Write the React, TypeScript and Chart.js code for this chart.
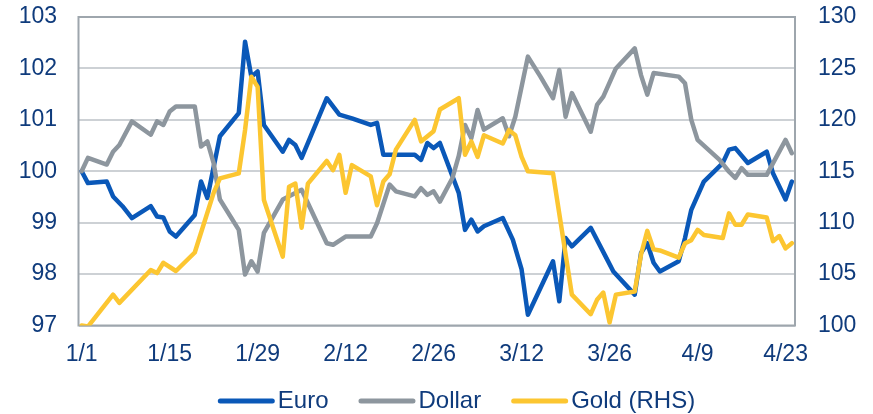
import React, { useEffect, useRef } from "react";
import { Chart, registerables } from "chart.js";

Chart.register(...registerables);

// Day offsets from 1 Jan, and index values (left axis: Euro, Dollar; right axis: Gold)
const tickDays = [0, 14, 28, 42, 56, 70, 84, 98, 112];
const tickLabels = ["1/1", "1/15", "1/29", "2/12", "2/26", "3/12", "3/26", "4/9", "4/23"];

const euroDays = [0, 1, 4, 5, 6.5, 8, 11, 12, 13, 14, 15, 18, 19, 20, 22, 25, 26, 27, 28, 29, 32, 33, 34, 35, 39, 41, 43, 46, 47, 48, 49.5, 53, 54, 55, 56, 57, 60, 61, 62, 63, 64, 67, 68.6, 70, 71, 75, 76, 77, 78, 81, 83.5, 84.6, 88, 89, 90, 91, 92, 95, 96, 97, 99, 102, 103, 104, 106, 109, 110, 112, 113];
const euroValues = [100.0, 99.77, 99.8, 99.51, 99.32, 99.09, 99.32, 99.12, 99.1, 98.83, 98.73, 99.15, 99.8, 99.48, 100.68, 101.13, 102.52, 101.84, 101.94, 100.9, 100.38, 100.61, 100.51, 100.26, 101.42, 101.1, 101.03, 100.9, 100.94, 100.32, 100.32, 100.32, 100.22, 100.55, 100.45, 100.55, 99.58, 98.86, 99.06, 98.83, 98.93, 99.09, 98.67, 98.09, 97.21, 98.25, 97.47, 98.7, 98.54, 98.9, 98.31, 98.05, 97.6, 98.41, 98.6, 98.22, 98.05, 98.25, 98.7, 99.25, 99.8, 100.16, 100.42, 100.45, 100.16, 100.38, 99.96, 99.45, 99.8];

const dollarDays = [0, 1, 4, 5, 6, 8, 11, 12, 13, 14, 15, 18, 19, 20, 21, 22, 25, 26, 27, 28, 29, 32, 35, 39, 40, 42, 46, 47, 49, 50, 53, 54, 55, 56, 57, 59, 60, 61, 62, 63, 64, 67, 68, 69, 71, 73, 75, 76, 77, 78, 81, 82, 83, 85, 88, 89, 90, 91, 95, 96, 97, 98, 101.5, 103, 104, 105, 106, 109, 112, 113];
const dollarValues = [100.0, 100.26, 100.13, 100.38, 100.51, 100.97, 100.71, 100.97, 100.9, 101.16, 101.26, 101.26, 100.48, 100.58, 100.16, 99.45, 98.86, 97.99, 98.25, 98.05, 98.8, 99.45, 99.64, 98.6, 98.57, 98.73, 98.73, 98.99, 99.74, 99.61, 99.51, 99.67, 99.54, 99.61, 99.41, 99.87, 100.3, 100.9, 100.64, 101.19, 100.81, 101.03, 100.68, 101.06, 102.23, 101.84, 101.42, 101.97, 101.06, 101.52, 100.77, 101.29, 101.45, 102.0, 102.39, 101.87, 101.49, 101.91, 101.84, 101.71, 101.0, 100.61, 100.22, 99.99, 99.87, 100.06, 99.93, 99.93, 100.61, 100.35];

const goldDays = [0, 1, 5, 6, 11, 12, 13, 15, 18, 21, 22, 25, 26, 27, 28, 29, 32, 33, 34, 35, 36, 39, 40, 41, 42, 43, 46, 47, 48, 49, 50, 53, 54, 56, 57, 60, 61, 62, 63, 64, 67, 68, 69, 70, 71, 75, 78, 81, 82, 83, 84, 85, 88, 89, 90, 91, 92, 95, 96, 97, 98, 99, 102, 103, 104, 105, 106, 109, 110, 111, 112, 113];
const goldValues = [100.0, 99.9, 103.0, 102.2, 105.4, 105.1, 106.1, 105.3, 107.1, 112.9, 114.3, 114.8, 119.0, 124.2, 123.2, 112.2, 106.7, 113.5, 113.8, 109.5, 113.8, 116.0, 115.1, 116.6, 112.9, 115.6, 114.5, 111.7, 114.0, 114.7, 117.1, 120.0, 117.9, 118.9, 121.0, 122.1, 116.6, 117.9, 116.4, 118.5, 117.7, 119.0, 118.5, 116.4, 115.0, 114.8, 103.0, 101.1, 102.5, 103.2, 100.3, 103.0, 103.3, 106.9, 109.2, 107.4, 107.3, 106.6, 108.0, 108.3, 109.3, 108.8, 108.5, 110.9, 109.8, 109.8, 110.8, 110.5, 108.2, 108.7, 107.5, 108.0];

const seriesNames = ["Euro", "Dollar", "Gold (RHS)"];
const seriesColors = ["#0a58b8", "#8d969e", "#fcc631"];

const FONT = "'Liberation Sans', Arial, sans-serif";
const TEXT = "#0f3b7c";

const toPoints = (xs: number[], ys: number[]) => xs.map((x, i) => ({ x, y: ys[i] }));

const frameAndLegend = {
  id: "frameAndLegend",
  beforeDatasetsDraw(chart: any) {
    const { ctx, chartArea: a } = chart;
    ctx.save();
    ctx.strokeStyle = "#9ea6ad";
    ctx.lineWidth = 2;
    ctx.strokeRect(a.left, a.top, a.right - a.left, a.bottom - a.top);
    ctx.restore();
  },
  afterDraw(chart: any) {
    const { ctx } = chart;
    ctx.save();
    ctx.font = `24px ${FONT}`;
    const lineLen = 57, gap = 3, itemGap = 30;
    const widths = seriesNames.map((n) => lineLen + gap + ctx.measureText(n).width);
    const total = widths.reduce((s, w) => s + w, 0) + itemGap * (seriesNames.length - 1);
    let x = 456.5 - total / 2;
    const y = 401;
    seriesNames.forEach((name, i) => {
      ctx.strokeStyle = seriesColors[i];
      ctx.lineWidth = 5;
      ctx.lineCap = "round";
      ctx.beginPath();
      ctx.moveTo(x + 2.5, y);
      ctx.lineTo(x + lineLen - 2.5, y);
      ctx.stroke();
      ctx.fillStyle = TEXT;
      ctx.textBaseline = "middle";
      ctx.textAlign = "left";
      ctx.fillText(name, x + lineLen + gap, y);
      x += widths[i] + itemGap;
    });
    ctx.restore();
  },
};

export default function App() {
  const ref = useRef<HTMLCanvasElement | null>(null);
  useEffect(() => {
    document.body.style.margin = "0";
    if (!ref.current) return;
    const common = {
      borderWidth: 4.5,
      pointRadius: 0,
      tension: 0,
      borderJoinStyle: "round" as const,
      borderCapStyle: "round" as const,
      fill: false,
    };
    const chart = new Chart(ref.current, {
      type: "line",
      data: {
        datasets: [
          { ...common, label: seriesNames[0], data: toPoints(euroDays, euroValues), borderColor: seriesColors[0], yAxisID: "y", order: 3 },
          { ...common, label: seriesNames[1], data: toPoints(dollarDays, dollarValues), borderColor: seriesColors[1], yAxisID: "y", order: 2 },
          { ...common, label: seriesNames[2], data: toPoints(goldDays, goldValues), borderColor: seriesColors[2], yAxisID: "y1", order: 1 },
        ],
      },
      options: {
        animation: false,
        responsive: false,
        maintainAspectRatio: false,
        layout: { padding: { top: 17, bottom: 38.5, left: 0, right: 0 } },
        plugins: { legend: { display: false }, tooltip: { enabled: false } },
        scales: {
          x: {
            type: "linear",
            min: -0.5,
            max: 113.5,
            grid: { display: false, drawTicks: false },
            border: { display: false },
            afterBuildTicks: (s: any) => {
              s.ticks = tickDays.map((v) => ({ value: v }));
            },
            afterFit: (s: any) => {
              s.height = 50;
            },
            ticks: {
              autoSkip: false,
              maxRotation: 0,
              padding: 15,
              color: TEXT,
              font: { family: FONT, size: 23 },
              callback: (v: any) => {
                const i = tickDays.indexOf(Number(v));
                return i >= 0 ? tickLabels[i] : "";
              },
            },
          },
          y: {
            position: "left",
            min: 97,
            max: 103,
            grid: { color: "#cdd1d5", lineWidth: 2, drawTicks: true, tickLength: 21.5, tickColor: "rgba(0,0,0,0)" },
            border: { display: false },
            afterFit: (s: any) => {
              s.width = 78.5;
            },
            ticks: { stepSize: 1, padding: 0, color: TEXT, font: { family: FONT, size: 23 } },
          },
          y1: {
            position: "right",
            min: 100,
            max: 130,
            grid: { display: true, drawOnChartArea: false, color: "rgba(0,0,0,0)", drawTicks: true, tickLength: 23, tickColor: "rgba(0,0,0,0)" },
            border: { display: false },
            afterFit: (s: any) => {
              s.width = 78;
            },
            ticks: { stepSize: 5, padding: 0, color: TEXT, font: { family: FONT, size: 23 } },
          },
        },
      },
      plugins: [frameAndLegend],
    });
    return () => chart.destroy();
  }, []);
  return (
    <div style={{ width: 873, height: 414 }}>
      <canvas ref={ref} width={873} height={414} style={{ display: "block" }} />
    </div>
  );
}
